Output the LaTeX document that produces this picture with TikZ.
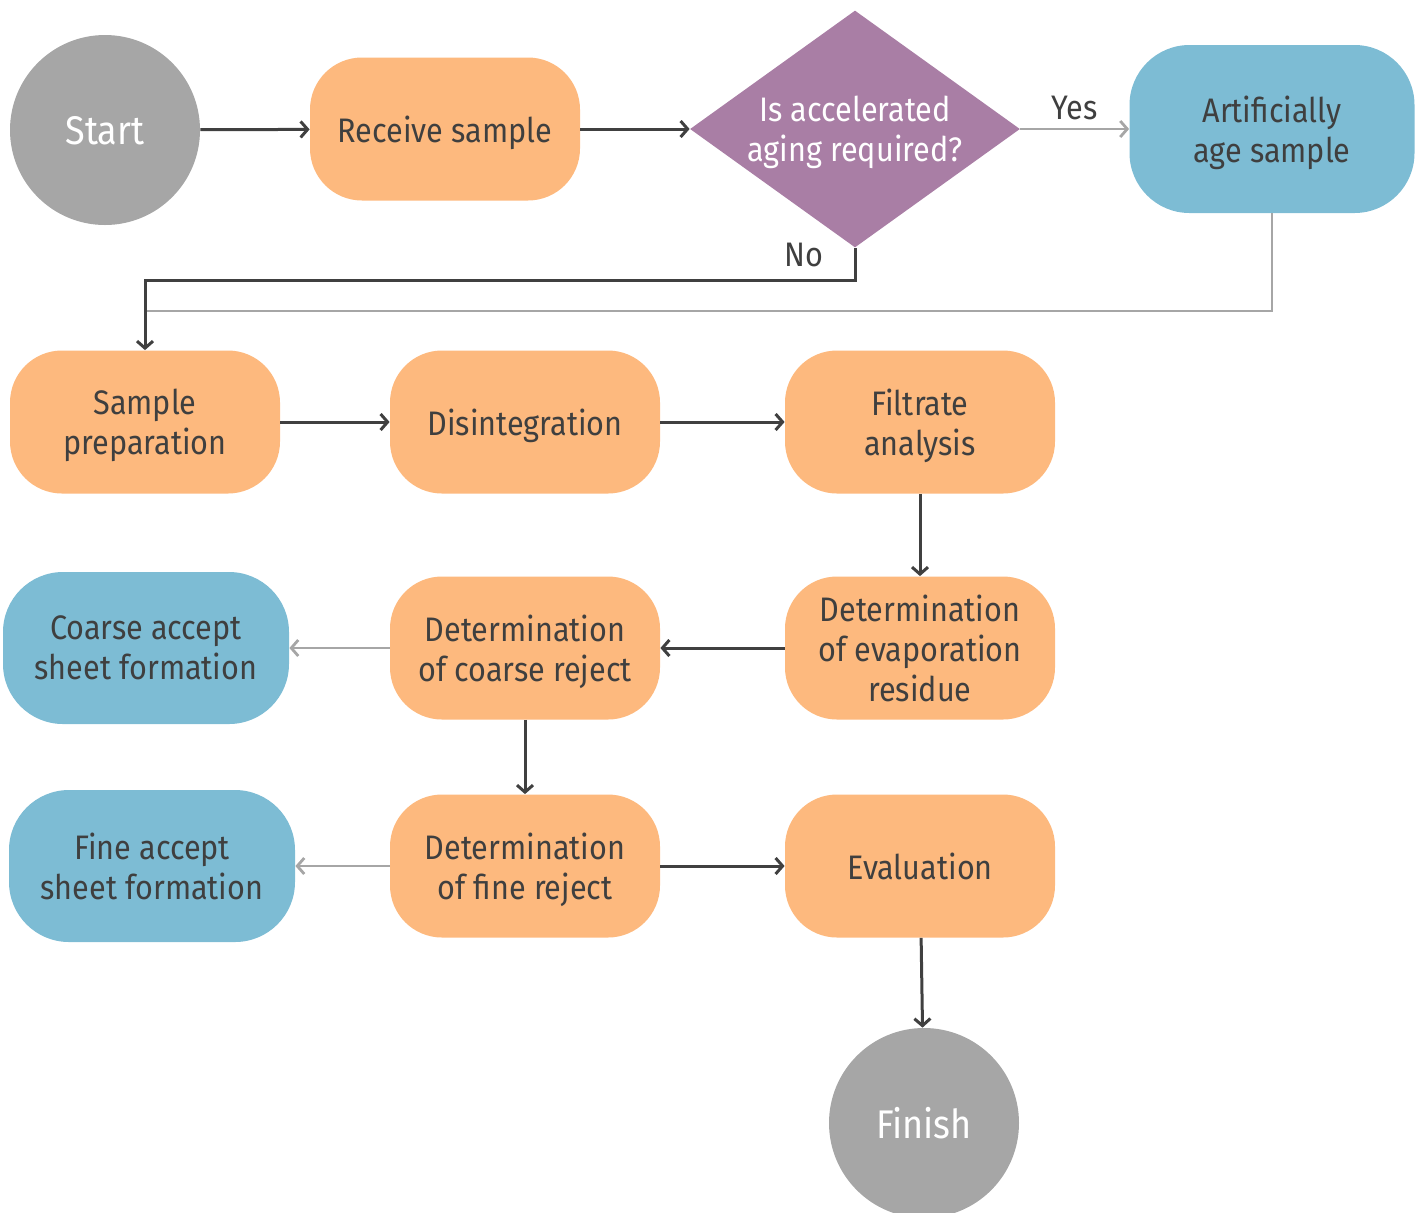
\documentclass[tikz,border=0pt]{standalone}
\usepackage{fontspec}
\setmainfont[FakeStretch=0.9]{Fira Sans}
\usetikzlibrary{shapes.geometric,arrows.meta}

\definecolor{stepOrange}{HTML}{FDB97E}
\definecolor{stepBlue}{HTML}{7DBCD4}
\definecolor{askPurple}{HTML}{A97EA5}
\definecolor{endGray}{HTML}{A6A6A6}
\definecolor{lineDark}{HTML}{404040}
\definecolor{lineLight}{HTML}{A6A6A6}
\definecolor{textDark}{HTML}{3F3F3F}

\begin{document}
\begin{tikzpicture}[x=0.5pt, y=-0.5pt,
    every node/.style={font=\fontsize{17}{20}\selectfont, align=center, inner sep=0pt, text depth=0pt},
    terminal/.style={circle, fill=endGray, text=white, minimum size=95pt, font=\fontsize{20}{24}\selectfont},
    process/.style={rectangle, rounded corners=26pt, fill=stepOrange, text=textDark, minimum width=135pt, minimum height=71.5pt},
    side/.style={rectangle, rounded corners=30pt, fill=stepBlue, text=textDark, minimum width=143pt, minimum height=76pt},
    question/.style={diamond, aspect=1.39, fill=askPurple, text=white, minimum width=165pt, minimum height=118.5pt},
    flow/.style={draw=lineDark, line width=1.5pt, -{Straight Barb[length=3.5pt, width=8pt]}},
    branch/.style={draw=lineLight, line width=1.4pt, -{Straight Barb[length=3.5pt, width=8pt]}}]

  \useasboundingbox (0,0) rectangle (1425,1212);

  % Nodes
  \node[terminal] (start) at (105,130) {Start};
  \node[process] (receive) at (445,129) {Receive sample};
  \node[question] (ask) at (855,129) {Is accelerated\\aging required?};
  \node[side, minimum width=142.5pt, minimum height=84pt] (age) at (1272,129) {Artificially\\age sample};

  \node[process] (prep) at (145,422) {Sample\\preparation};
  \node[process] (disint) at (525,422) {Disintegration};
  \node[process] (filtrate) at (920,422) {Filtrate\\analysis};

  \node[side] (coarseacc) at (146,648) {Coarse accept\\sheet formation};
  \node[process] (coarse) at (525,648) {Determination\\of coarse reject};
  \node[process] (evap) at (920,648) {Determination\\of evaporation\\residue};

  \node[side] (fineacc) at (152,866) {Fine accept\\sheet formation};
  \node[process] (fine) at (525,866) {Determination\\of fine reject};
  \node[process] (eval) at (920,866) {Evaluation};

  \node[terminal] (finish) at (924,1123) {Finish};

  \coordinate (join) at (145,311);

  % Main flow
  \foreach \a/\b in {start/receive, receive/ask, prep/disint, disint/filtrate,
                     filtrate/evap, evap/coarse, coarse/fine, fine/eval, eval/finish}
    \draw[flow] (\a) -- (\b);

  % Decision
  \draw[branch] (ask) -- node[above=4pt, text=textDark] {Yes} (age);
  \draw[lineLight, line width=1.4pt] (age.south) |- (join);
  \draw[flow] (ask.south) -- node[pos=0.2, left=15pt, text=textDark] {No} ++(0,33) -| (prep.north);

  % Side products
  \draw[branch] (coarse) -- (coarseacc);
  \draw[branch] (fine) -- (fineacc);
\end{tikzpicture}
\end{document}
